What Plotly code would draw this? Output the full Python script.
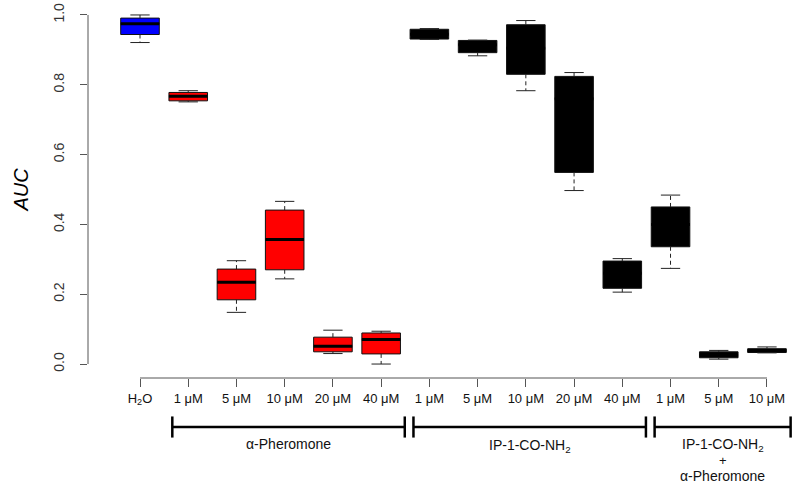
import plotly.graph_objects as go

# ---- data ----
labels = ["H<sub>2</sub>O", "1 μM", "5 μM", "10 μM", "20 μM", "40 μM",
          "1 μM", "5 μM", "10 μM", "20 μM", "40 μM",
          "1 μM", "5 μM", "10 μM"]
lower = [0.921, 0.751, 0.148, 0.244, 0.030, 0.000, 0.930, 0.883, 0.783, 0.497, 0.206, 0.274, 0.014, 0.032]
q1 =    [0.944, 0.754, 0.184, 0.270, 0.035, 0.029, 0.931, 0.892, 0.830, 0.549, 0.217, 0.336, 0.018, 0.033]
med =   [0.975, 0.767, 0.234, 0.357, 0.051, 0.070, 0.945, 0.915, 0.905, 0.760, 0.260, 0.400, 0.026, 0.038]
q3 =    [0.991, 0.778, 0.272, 0.441, 0.077, 0.089, 0.959, 0.927, 0.972, 0.824, 0.295, 0.450, 0.035, 0.044]
upper = [1.000, 0.783, 0.296, 0.466, 0.097, 0.094, 0.961, 0.928, 0.984, 0.835, 0.302, 0.484, 0.039, 0.049]
colors = ["#0000FF"] + ["#FF0000"] * 5 + ["#000000"] * 8

group_names = ["α-Pheromone", "IP-1-CO-NH<sub>2</sub>"]
group_ranges = [(1, 5), (6, 10), (11, 13)]
group3_lines = ["IP-1-CO-NH<sub>2</sub>", "+", "α-Pheromone"]

yticks = [0.0, 0.2, 0.4, 0.6, 0.8, 1.0]

# ---- figure ----
xs = list(range(len(labels)))
BW = 0.8
CAP = 0.4

fig = go.Figure()

# boxes (one trace per colour)
for col in ["#0000FF", "#FF0000", "#000000"]:
    idx = [i for i in xs if colors[i] == col]
    fig.add_trace(go.Box(
        x=[xs[i] for i in idx],
        q1=[q1[i] for i in idx], median=[med[i] for i in idx], q3=[q3[i] for i in idx],
        lowerfence=[q1[i] for i in idx], upperfence=[q3[i] for i in idx],
        width=BW, whiskerwidth=0, fillcolor=col,
        line=dict(color="#111111", width=1), boxpoints=False,
        showlegend=False, hoverinfo="skip"))

# thick medians
mx, my = [], []
for i in xs:
    mx += [i - BW / 2, i + BW / 2, None]
    my += [med[i], med[i], None]
fig.add_trace(go.Scatter(x=mx, y=my, mode="lines", line=dict(color="#000000", width=3),
                         showlegend=False, hoverinfo="skip"))

# dashed whiskers
wx, wy = [], []
for i in xs:
    wx += [i, i, None, i, i, None]
    wy += [q3[i], upper[i], None, q1[i], lower[i], None]
fig.add_trace(go.Scatter(x=wx, y=wy, mode="lines", line=dict(color="#222222", width=1, dash="4px,3px"),
                         showlegend=False, hoverinfo="skip"))

# caps
cx, cy = [], []
for i in xs:
    cx += [i - CAP / 2, i + CAP / 2, None, i - CAP / 2, i + CAP / 2, None]
    cy += [upper[i], upper[i], None, lower[i], lower[i], None]
fig.add_trace(go.Scatter(x=cx, y=cy, mode="lines", line=dict(color="#222222", width=1),
                         showlegend=False, hoverinfo="skip"))

AX = "#555555"
shapes = [
    dict(type="line", xref="paper", yref="y", x0=0, x1=0, y0=min(yticks), y1=max(yticks),
         line=dict(color=AX, width=1)),
    dict(type="line", xref="x", yref="paper", x0=xs[0], x1=xs[-1], y0=0, y1=0,
         line=dict(color=AX, width=1)),
]

# group brackets
YB = -0.130
for (a, b) in group_ranges:
    x0, x1 = a - 0.33, b + 0.49
    shapes.append(dict(type="line", xref="x", yref="paper", x0=x0, x1=x1, y0=YB, y1=YB,
                       line=dict(color="#000000", width=2.5)))
    for xe in (x0, x1):
        shapes.append(dict(type="line", xref="x", yref="paper", x0=xe, x1=xe, y0=YB - 0.028, y1=YB + 0.028,
                           line=dict(color="#000000", width=2.5)))

annotations = [
    dict(text="AUC", xref="paper", yref="paper", x=(20 - 88) / 712, y=0.5, textangle=-90,
         showarrow=False, font=dict(size=20, color="#000000", style="italic"), xanchor="center", yanchor="middle"),
]
centers = [((a - 0.33) + (b + 0.49)) / 2 for (a, b) in group_ranges]
annotations.append(dict(text=group_names[0], xref="x", yref="paper", x=centers[0], y=(378 - 444) / 377,
                        showarrow=False, font=dict(size=14, color="#111111"), yanchor="middle"))
annotations.append(dict(text=group_names[1], xref="x", yref="paper", x=centers[1], y=(378 - 446) / 377,
                        showarrow=False, font=dict(size=14, color="#111111"), yanchor="middle"))
for k, (t, py) in enumerate(zip(group3_lines, [445, 461, 476])):
    annotations.append(dict(text=t, xref="x", yref="paper", x=centers[2], y=(378 - py) / 377,
                            showarrow=False, font=dict(size=14 if k != 1 else 13, color="#111111"),
                            yanchor="middle"))

U = 48.23
fig.update_layout(
    width=800, height=484,
    margin=dict(l=88, r=0, t=1, b=106, autoexpand=False),
    plot_bgcolor="white", paper_bgcolor="white",
    font=dict(family="Liberation Sans, Arial, sans-serif", color="#111111"),
    shapes=shapes, annotations=annotations,
    xaxis=dict(range=[-52 / U, (800 - 140) / U], tickvals=xs, ticktext=labels, automargin=False,
               ticks="outside", ticklen=8, tickcolor=AX, showline=False, showgrid=False, zeroline=False,
               tickfont=dict(size=13, color="#111111"), tickangle=0),
    yaxis=dict(range=[-0.04, 1.04], tickvals=yticks, tickformat=".1f", automargin=False,
               ticks="outside", ticklen=7, tickcolor=AX, showline=False, showgrid=False, zeroline=False,
               tickangle=-90, tickfont=dict(size=14, color="#333333"), ticklabelstandoff=10),
)

fig.write_html("out.html", config={"displayModeBar": False},
               post_script="document.body.style.margin='0';document.body.style.overflow='hidden';")
